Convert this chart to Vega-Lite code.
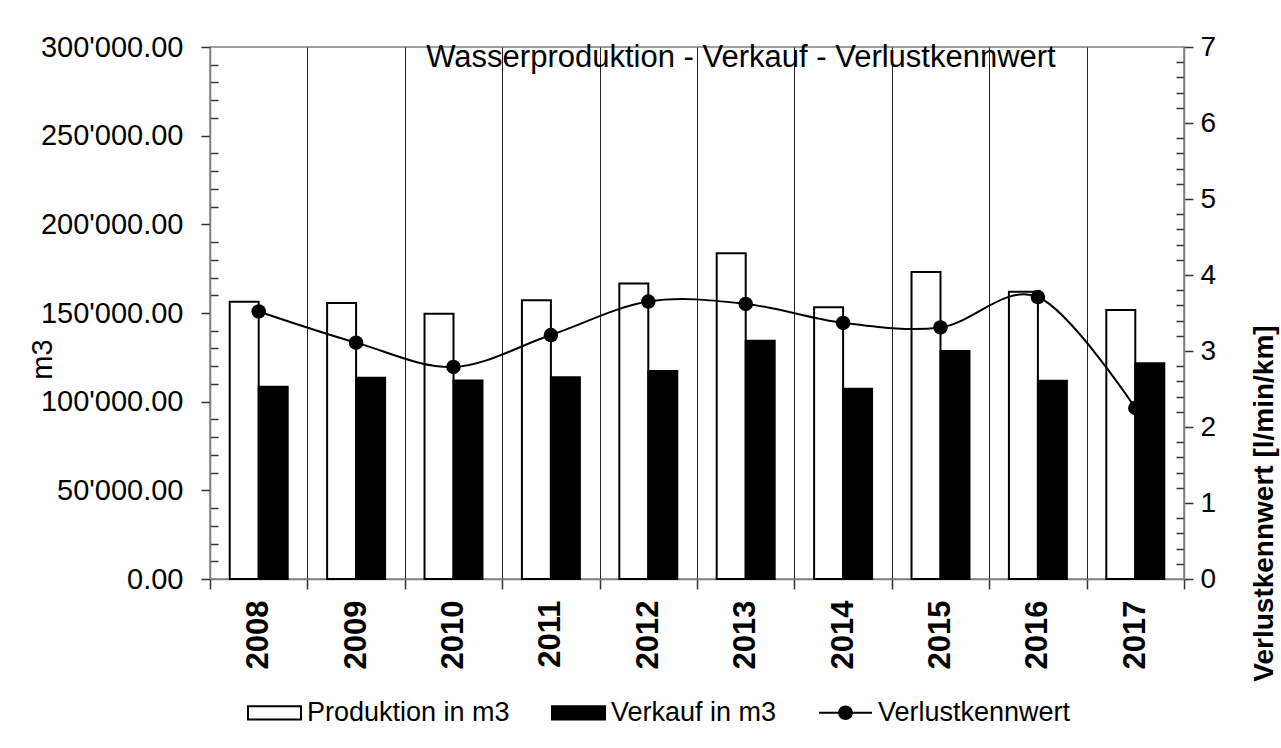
{
  "$schema": "https://vega.github.io/schema/vega-lite/v6.json",
  "width": 974,
  "height": 532,
  "autosize": {"type": "none"},
  "padding": {"left": 210, "top": 47, "right": 97, "bottom": 169},
  "background": "white",
  "config": {
    "font": "Liberation Sans",
    "view": {"stroke": "#808080", "strokeWidth": 1.5}
  },
  "title": {
    "text": "Wasserproduktion - Verkauf - Verlustkennwert",
    "fontSize": 31,
    "fontWeight": "normal",
    "color": "black",
    "anchor": "middle",
    "frame": "group",
    "dx": 44,
    "offset": 0,
    "baseline": "top",
    "dy": 41
  },
  "datasets": {
    "mengen": [
      {"Jahr": "2008", "Serie": "Produktion in m3", "Menge": 156400},
      {"Jahr": "2008", "Serie": "Verkauf in m3", "Menge": 108400},
      {"Jahr": "2009", "Serie": "Produktion in m3", "Menge": 155600},
      {"Jahr": "2009", "Serie": "Verkauf in m3", "Menge": 113500},
      {"Jahr": "2010", "Serie": "Produktion in m3", "Menge": 149600},
      {"Jahr": "2010", "Serie": "Verkauf in m3", "Menge": 112000},
      {"Jahr": "2011", "Serie": "Produktion in m3", "Menge": 157200},
      {"Jahr": "2011", "Serie": "Verkauf in m3", "Menge": 113700},
      {"Jahr": "2012", "Serie": "Produktion in m3", "Menge": 166700},
      {"Jahr": "2012", "Serie": "Verkauf in m3", "Menge": 117300},
      {"Jahr": "2013", "Serie": "Produktion in m3", "Menge": 183700},
      {"Jahr": "2013", "Serie": "Verkauf in m3", "Menge": 134400},
      {"Jahr": "2014", "Serie": "Produktion in m3", "Menge": 153200},
      {"Jahr": "2014", "Serie": "Verkauf in m3", "Menge": 107300},
      {"Jahr": "2015", "Serie": "Produktion in m3", "Menge": 173100},
      {"Jahr": "2015", "Serie": "Verkauf in m3", "Menge": 128600},
      {"Jahr": "2016", "Serie": "Produktion in m3", "Menge": 162000},
      {"Jahr": "2016", "Serie": "Verkauf in m3", "Menge": 111800},
      {"Jahr": "2017", "Serie": "Produktion in m3", "Menge": 151700},
      {"Jahr": "2017", "Serie": "Verkauf in m3", "Menge": 121600}
    ],
    "kennwert": [
      {"Jahr": "2008", "Verlustkennwert": 3.52},
      {"Jahr": "2009", "Verlustkennwert": 3.11},
      {"Jahr": "2010", "Verlustkennwert": 2.79},
      {"Jahr": "2011", "Verlustkennwert": 3.21},
      {"Jahr": "2012", "Verlustkennwert": 3.65},
      {"Jahr": "2013", "Verlustkennwert": 3.62},
      {"Jahr": "2014", "Verlustkennwert": 3.37},
      {"Jahr": "2015", "Verlustkennwert": 3.31},
      {"Jahr": "2016", "Verlustkennwert": 3.71},
      {"Jahr": "2017", "Verlustkennwert": 2.25}
    ]
  },
  "layer": [
    {
      "data": {"name": "mengen"},
      "mark": {"type": "bar", "stroke": "black", "strokeWidth": 2},
      "encoding": {
        "x": {
          "field": "Jahr",
          "type": "nominal",
          "scale": {"paddingInner": 0, "paddingOuter": 0},
          "axis": {
            "title": null,
            "labelAngle": 270,
            "labelAlign": "right",
            "labelBaseline": "middle",
            "labelFontSize": 31,
            "labelFontWeight": "bold",
            "labelColor": "black",
            "labelPadding": 11,
            "tickBand": "extent",
            "tickSize": 10,
            "tickColor": "#333",
            "tickWidth": 1.5,
            "domainColor": "#808080",
            "domainWidth": 1.5,
            "grid": true,
            "gridColor": "#222",
            "gridWidth": 1
          }
        },
        "xOffset": {
          "field": "Serie",
          "type": "nominal",
          "scale": {"paddingInner": 0, "paddingOuter": 0.68}
        },
        "y": {
          "field": "Menge",
          "type": "quantitative",
          "scale": {"domain": [0, 300000], "nice": false},
          "axis": {
            "values": [0, 10000, 20000, 30000, 40000, 50000, 60000, 70000, 80000, 90000, 100000, 110000, 120000, 130000, 140000, 150000, 160000, 170000, 180000, 190000, 200000, 210000, 220000, 230000, 240000, 250000, 260000, 270000, 280000, 290000, 300000],
            "labelExpr": "datum.value % 50000 === 0 ? replace(format(datum.value, ',.2f'), ',', \"'\") : ''",
            "labelFontSize": 29,
            "labelColor": "black",
            "labelPadding": 18,
            "labelOverlap": false,
            "tickSize": {"condition": {"test": "datum.value % 50000 === 0", "value": 9}, "value": -8},
            "tickColor": "#333",
            "tickWidth": 1.5,
            "domainColor": "#808080",
            "domainWidth": 1.5,
            "grid": false,
            "title": "m3",
            "titleFontSize": 29,
            "titleFontWeight": "normal",
            "titleColor": "black",
            "titleAngle": 270,
            "titleAlign": "center",
            "titleBaseline": "middle",
            "titleX": -168,
            "titleY": 312
          }
        },
        "fill": {
          "field": "Serie",
          "type": "nominal",
          "scale": {"domain": ["Produktion in m3", "Verkauf in m3", "Verlustkennwert"], "range": ["white", "black", "black"]},
          "legend": {
            "title": null,
            "orient": "none",
            "legendX": 37,
            "legendY": 638,
            "direction": "horizontal",
            "padding": 0,
            "symbolSize": 2809,
            "labelFontSize": 27,
            "labelColor": "black",
            "labelOffset": 5,
            "columnPadding": 38,
            "labelLimit": 400,
            "symbolStrokeWidth": 2,
            "symbolStrokeColor": "black",
            "encode": {
              "symbols": {
                "update": {
                  "shape": {"signal": "datum.label === 'Verlustkennwert' ? 'M-1,0H1M0.24,0A0.24,0.24,0,1,1,-0.24,0A0.24,0.24,0,1,1,0.24,0Z' : 'M-1,-0.25H1V0.25H-1Z'"},
                  "stroke": {"value": "black"},
                  "strokeWidth": {"value": 2}
                }
              }
            }
          }
        }
      }
    },
    {
      "data": {"name": "kennwert"},
      "mark": {
        "type": "line",
        "color": "black",
        "strokeWidth": 2,
        "interpolate": "cardinal",
        "point": {"filled": true, "size": 210, "color": "black"}
      },
      "encoding": {
        "x": {"field": "Jahr", "type": "nominal"},
        "y": {
          "field": "Verlustkennwert",
          "type": "quantitative",
          "scale": {"domain": [0, 7], "nice": false},
          "axis": {
            "orient": "right",
            "values": [0, 0.2, 0.4, 0.6, 0.8, 1, 1.2, 1.4, 1.6, 1.8, 2, 2.2, 2.4, 2.6, 2.8, 3, 3.2, 3.4, 3.6, 3.8, 4, 4.2, 4.4, 4.6, 4.8, 5, 5.2, 5.4, 5.6, 5.8, 6, 6.2, 6.4, 6.6, 6.8, 7],
            "labelExpr": "datum.value % 1 === 0 ? datum.value + '' : ''",
            "labelFontSize": 28,
            "labelColor": "black",
            "labelPadding": 7,
            "labelOverlap": false,
            "tickSize": {"condition": {"test": "datum.value % 1 === 0", "value": 9}, "value": -8},
            "tickColor": "#333",
            "tickWidth": 1.5,
            "domainColor": "#808080",
            "domainWidth": 1.5,
            "grid": false,
            "title": "Verlustkennwert [l/min/km]",
            "titleFontSize": 28,
            "titleFontWeight": "bold",
            "titleColor": "black",
            "titleAngle": 270,
            "titleAlign": "center",
            "titleBaseline": "middle",
            "titleX": 80,
            "titleY": 456
          }
        }
      }
    }
  ],
  "resolve": {"scale": {"y": "independent"}}
}
